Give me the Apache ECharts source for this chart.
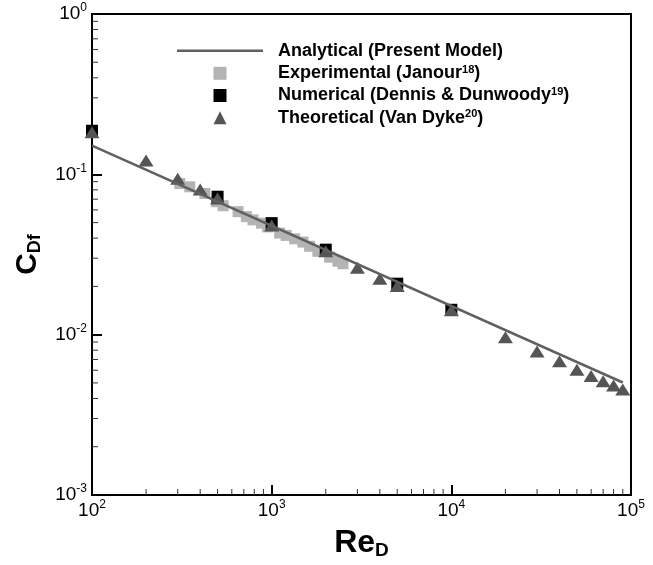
<!DOCTYPE html>
<html>
	<head>
		<meta charset="utf-8" />
		<script src="https://cdn.jsdelivr.net/npm/echarts@6.0.0/dist/echarts.min.js"></script>
		<title>CDf vs ReD</title>
		<style>
			body { margin: 0; background: #fff; }
		</style>
	</head>
	<body>
		<div id="main" style="width: 653px;height: 565px;"></div>
		<script>
			var FONT = '"Liberation Sans", Arial, sans-serif'

			// analytical line (straight in log-log)
			var analytical = [[100, 0.151], [90000, 0.00503]]

			// Janour experiments (light gray squares)
			var experimental = [
				[308, 0.0876], [350, 0.0836], [425, 0.076], [493, 0.0675], [537, 0.0637],
				[650, 0.0585], [723, 0.0545], [787, 0.052], [877, 0.0496], [950, 0.047],
				[1108, 0.043], [1204, 0.0416], [1343, 0.0396], [1494, 0.0378], [1626, 0.0356],
				[1808, 0.0331], [2100, 0.0304], [2337, 0.0287], [2494, 0.0277]
			]

			// Dennis & Dunwoody (black squares)
			var numerical = [
				[100, 0.187], [500, 0.0725], [1000, 0.0496], [2000, 0.0339], [5000, 0.0208], [10000, 0.0143]
			]

			// Van Dyke (dark triangles)
			var theoretical = [
				[100, 0.183], [200, 0.122], [300, 0.094], [400, 0.0804], [500, 0.0708],
				[1000, 0.048], [2000, 0.0331], [3000, 0.0261], [4000, 0.0223], [5000, 0.0201],
				[10000, 0.0142], [20000, 0.00964], [30000, 0.00786], [40000, 0.00682], [50000, 0.00605],
				[60000, 0.00553], [70000, 0.00513], [80000, 0.00482], [90000, 0.00455]
			]

			// minor ticks (2..9 in each decade)
			var xMinorTicks = [200, 300, 400, 500, 600, 700, 800, 900,
				2000, 3000, 4000, 5000, 6000, 7000, 8000, 9000,
				20000, 30000, 40000, 50000, 60000, 70000, 80000, 90000]
			var yMinorTicks = [0.002, 0.003, 0.004, 0.005, 0.006, 0.007, 0.008, 0.009,
				0.02, 0.03, 0.04, 0.05, 0.06, 0.07, 0.08, 0.09,
				0.2, 0.3, 0.4, 0.5, 0.6, 0.7, 0.8, 0.9]

			var legendNames = {
				'Analytical': 'Analytical (Present Model)',
				'Experimental': 'Experimental (Janour{sup|18})',
				'Numerical': 'Numerical (Dennis & Dunwoody{sup|19})',
				'Theoretical': 'Theoretical (Van Dyke{sup|20})'
			}

			function powLabel(v) {
				var e = Math.round(Math.log10(v))
				return '{b|10}{s|' + e + '}'
			}
			var labelRich = {
				b: { fontFamily: FONT, fontSize: 19, lineHeight: 24, color: '#000' },
				s: { fontFamily: FONT, fontSize: 12, lineHeight: 12, color: '#000', verticalAlign: 'top' }
			}
			function legendText(padLeft) {
				return {
					fontFamily: FONT, fontSize: 18, fontWeight: 'bold', color: '#000', lineHeight: 18,
					padding: [0, 0, 0, padLeft],
					rich: { sup: { fontFamily: FONT, fontSize: 11, fontWeight: 'bold', color: '#000', lineHeight: 11, verticalAlign: 'top' } }
				}
			}

			const myChart = echarts.init(document.getElementById('main'))

			option = {
				animation: false,
				backgroundColor: '#fff',
				grid: { left: 92, right: 22, top: 14, bottom: 66, show: true, borderColor: '#000', borderWidth: 2, containLabel: false },
				legend: [
					{
						orient: 'vertical', left: 172, top: 36.7,
						itemWidth: 86, itemHeight: 2.5,
						data: [{ name: 'Analytical', icon: 'rect', itemStyle: { color: '#606060' } }],
						formatter: function (n) { return legendNames[n] },
						textStyle: legendText(10)
					},
					{
						orient: 'vertical', left: 208.5, top: 59.3,
						itemWidth: 13, itemHeight: 13, itemGap: 4.2,
						data: ['Experimental', 'Numerical', 'Theoretical'],
						formatter: function (n) { return legendNames[n] },
						textStyle: legendText(46.5)
					}
				],
				xAxis: {
					type: 'log', logBase: 10, min: 100, max: 100000,
					splitLine: { show: false },
					axisLine: { lineStyle: { color: '#000', width: 2 } },
					axisTick: { inside: true, length: 10, lineStyle: { color: '#000', width: 2 } },
					axisLabel: { formatter: powLabel, rich: labelRich, margin: 4 },
					name: '{m|Re}{d|D}',
					nameLocation: 'middle', nameGap: 31,
					nameTextStyle: {
						rich: {
							m: { fontFamily: FONT, fontSize: 32, fontWeight: 'bold', lineHeight: 34, color: '#000' },
							d: { fontFamily: FONT, fontSize: 19, fontWeight: 'bold', lineHeight: 19, color: '#000', verticalAlign: 'bottom' }
						}
					}
				},
				yAxis: {
					type: 'log', logBase: 10, min: 0.001, max: 1,
					splitLine: { show: false },
					axisLine: { lineStyle: { color: '#000', width: 2 } },
					axisTick: { inside: true, length: 10, lineStyle: { color: '#000', width: 2 } },
					axisLabel: { formatter: powLabel, rich: labelRich, margin: 5 },
					name: '{m|C}{d|Df}',
					nameLocation: 'middle', nameRotate: 90, nameGap: 48,
					nameTextStyle: {
						rich: {
							m: { fontFamily: FONT, fontSize: 30, fontWeight: 'bold', lineHeight: 32, color: '#000' },
							d: { fontFamily: FONT, fontSize: 18, fontWeight: 'bold', lineHeight: 18, color: '#000', verticalAlign: 'bottom' }
						}
					}
				},
				series: [
					{
						name: 'Analytical', type: 'line', data: analytical,
						symbol: 'none', lineStyle: { color: '#606060', width: 2.5 },
						itemStyle: { color: '#606060' }
					},
					{
						name: 'Experimental', type: 'scatter', data: experimental,
						symbol: 'rect', symbolSize: 11, itemStyle: { color: '#b4b4b4', opacity: 1 }
					},
					{
						name: 'Numerical', type: 'scatter', data: numerical,
						symbol: 'rect', symbolSize: 12, itemStyle: { color: '#000', opacity: 1 }
					},
					{
						name: 'Theoretical', type: 'scatter', data: theoretical,
						symbol: 'triangle', symbolSize: [15, 12], itemStyle: { color: '#555555', opacity: 1 }
					},
					{
						type: 'custom', silent: true, clip: false,
						data: xMinorTicks.map(function (v) { return [v, 0.001] }),
						renderItem: function (params, api) {
							var p = api.coord([api.value(0), api.value(1)])
							return { type: 'line', shape: { x1: p[0], y1: p[1], x2: p[0], y2: p[1] - 6 }, style: { stroke: '#333', lineWidth: 1 } }
						}
					},
					{
						type: 'custom', silent: true, clip: false,
						data: yMinorTicks.map(function (v) { return [100, v] }),
						renderItem: function (params, api) {
							var p = api.coord([api.value(0), api.value(1)])
							return { type: 'line', shape: { x1: p[0], y1: p[1], x2: p[0] + 6, y2: p[1] }, style: { stroke: '#333', lineWidth: 1 } }
						}
					}
				]
			}
			myChart.setOption(option)
		</script>
	</body>
</html>
